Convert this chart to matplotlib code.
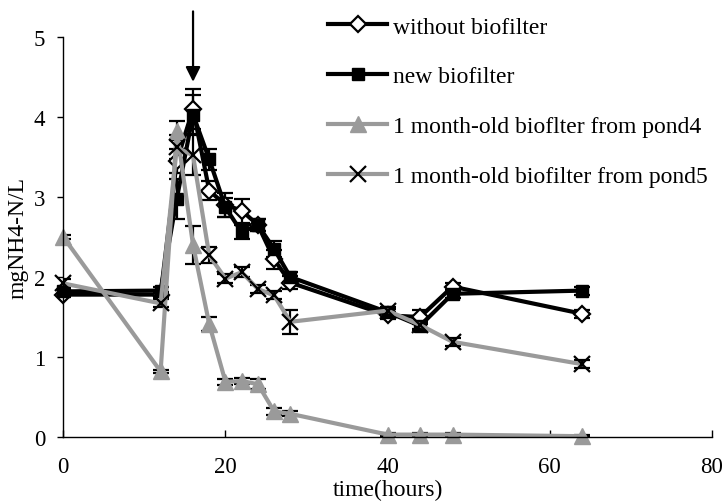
import matplotlib
matplotlib.use("Agg")
import matplotlib.pyplot as plt

# Sampling times (hours)
time_h = [0, 12, 14, 16, 18, 20, 22, 24, 26, 28, 40, 44, 48, 64]

# NH4-N concentration (mg/L) per treatment
without_bf = [1.78, 1.78, 3.45, 4.10, 3.08, 2.90, 2.83, 2.65, 2.22, 1.93, 1.52, 1.50, 1.88, 1.54]
new_bf     = [1.82, 1.83, 2.98, 4.03, 3.47, 2.87, 2.56, 2.65, 2.35, 2.00, 1.56, 1.39, 1.79, 1.83]
pond4_bf   = [2.50, 0.82, 3.83, 2.40, 1.41, 0.69, 0.70, 0.66, 0.32, 0.29, 0.03, 0.03, 0.03, 0.01]
pond5_bf   = [1.92, 1.67, 3.62, 3.52, 2.27, 1.98, 2.06, 1.85, 1.77, 1.44, 1.58, 1.40, 1.19, 0.91]

# Standard deviations
without_sd = [0.03, 0.03, 0.15, 0.25, 0.12, 0.15, 0.15, 0.08, 0.12, 0.08, 0.04, 0.09, 0.05, 0.05]
new_sd     = [0.03, 0.05, 0.25, 0.24, 0.13, 0.12, 0.09, 0.07, 0.10, 0.06, 0.04, 0.05, 0.05, 0.05]
pond4_sd   = [0.03, 0.02, 0.12, 0.24, 0.09, 0.04, 0.04, 0.06, 0.04, 0.03, 0.02, 0.02, 0.02, 0.01]
pond5_sd   = [0.05, 0.05, 0.15, 0.25, 0.10, 0.06, 0.06, 0.05, 0.05, 0.15, 0.05, 0.05, 0.05, 0.05]

labels = ["without biofilter", "new biofilter",
          "1 month-old bioflter from pond4", "1 month-old biofilter from pond5"]

plt.rcParams["font.family"] = ["Liberation Serif", "DejaVu Serif"]

fig = plt.figure(figsize=(7.28, 5.02), dpi=100)
ax = fig.add_axes([63.3 / 728, 1 - 438 / 502, (712 - 63.3) / 728, 400 / 502])

gray = "#9a9a9a"
err_kw = dict(ecolor="black", elinewidth=1.6, capsize=5.5, capthick=1.6)

series = [
    (without_bf, without_sd, dict(color="black", marker="D", ms=8, mfc="white",
                                  mec="black", mew=1.6)),
    (new_bf, new_sd, dict(color="black", marker="s", ms=8, mfc="black", mec="black")),
    (pond4_bf, pond4_sd, dict(color=gray, marker="^", ms=12, mfc=gray, mec=gray)),
    (pond5_bf, pond5_sd, dict(color=gray, marker="x", ms=12, mec="black", mew=1.6)),
]

handles = []
for vals, sd, style in series:
    eb = ax.errorbar(time_h, vals, yerr=sd, lw=3, **style, **err_kw)
    eb[0].set_clip_on(False)
    handles.append(eb[0])

ax.set_xlim(0, 80)
ax.set_ylim(0, 5)
ax.set_xticks([0, 20, 40, 60, 80])
ax.set_yticks([0, 1, 2, 3, 4, 5])
ax.spines["top"].set_visible(False)
ax.spines["right"].set_visible(False)
for s in ("left", "bottom"):
    ax.spines[s].set_linewidth(1.0)
ax.tick_params(axis="x", direction="in", length=5, width=1, pad=14, labelsize=16.5)
ax.tick_params(axis="y", direction="out", length=4, width=1, pad=9, labelsize=16.5)

ax.set_ylabel("mgNH4-N/L", fontsize=17, labelpad=4)
fig.text((63.3 + 712) / 2 / 728, 6 / 502, "time(hours)", fontsize=17,
         ha="center", va="baseline")

# Arrow marking the dosing time
ax.annotate("", xy=(16, 4.44), xytext=(16, 5.32),
            arrowprops=dict(arrowstyle="-|>", color="black", lw=1.6,
                            mutation_scale=22, shrinkA=0, shrinkB=0),
            annotation_clip=False)

ax.legend(handles, labels, loc="upper left",
          bbox_to_anchor=(328 / 728, 1 - 17 / 502),
          bbox_transform=fig.transFigure, frameon=False,
          fontsize=17, numpoints=1, handlelength=2.5,
          handletextpad=0.25, labelspacing=1.2,
          borderpad=0, borderaxespad=0)

fig.savefig("out.png", dpi=100)
